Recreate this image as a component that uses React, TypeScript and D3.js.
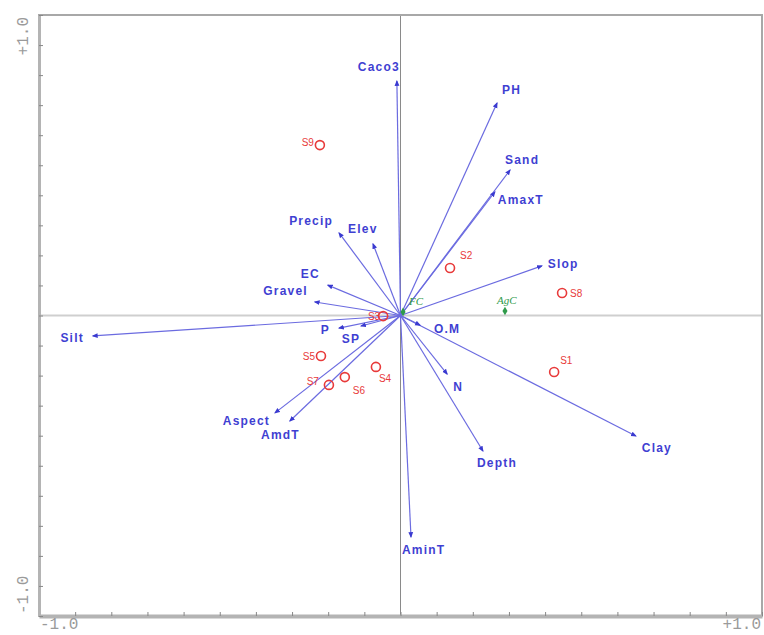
import React, { useRef, useEffect } from 'react';
import * as d3 from 'd3';

// environmental variables (arrows)
const varNames = ['Caco3', 'PH', 'Sand', 'AmaxT', 'Slop', 'Clay', 'Depth', 'N', 'O.M', 'AminT',
    'Aspect', 'AmdT', 'Silt', 'P', 'SP', 'Gravel', 'EC', 'Precip', 'Elev'];
const varX = [-0.01, 0.267, 0.303, 0.261, 0.391, 0.651, 0.228, 0.129, 0.054, 0.029,
    -0.347, -0.306, -0.851, -0.170, -0.109, -0.237, -0.201, -0.170, -0.076];
const varY = [0.78, 0.707, 0.484, 0.411, 0.165, -0.401, -0.451, -0.195, -0.032, -0.737,
    -0.324, -0.351, -0.068, -0.042, -0.035, 0.045, 0.101, 0.275, 0.238];

// sites
const siteNames = ['S1', 'S2', 'S3', 'S4', 'S5', 'S6', 'S7', 'S8', 'S9'];
const siteX = [0.425, 0.137, -0.048, -0.068, -0.220, -0.154, -0.198, 0.447, -0.223];
const siteY = [-0.188, 0.158, -0.002, -0.171, -0.135, -0.205, -0.231, 0.075, 0.567];

// species / supplementary points
const suppNames = ['FC', 'AgC'];
const suppX = [0.007, 0.289];
const suppY = [0.012, 0.015];

const axisTicks = d3.range(-10, 11).map(d => d / 10);

// label layout: [anchor, dx, dy] relative to tip
const varLabelPos: Record<string, [string, number, number]> = {
    Caco3: ['end', 3, -10], PH: ['start', 5, -9], Sand: ['start', -5, -6], AmaxT: ['start', 3, 12],
    Slop: ['start', 6, 2], Clay: ['start', 6, 16], Depth: ['start', -6, 16], N: ['start', 6, 17],
    'O.M': ['start', 14, 8], AminT: ['start', -9, 17], Aspect: ['end', -5, 12], AmdT: ['end', 10, 18],
    Silt: ['end', -9, 6], P: ['end', -9, 6], SP: ['end', -1, 17], Gravel: ['end', -7, -7],
    EC: ['end', -8, -7], Precip: ['end', -6, -8], Elev: ['start', -25, -11],
};
const siteLabelPos: Record<string, [string, number, number]> = {
    S1: ['start', 6, -8], S2: ['start', 10, -9], S3: ['end', -3, 4], S4: ['start', 3, 15],
    S5: ['end', -6, 4], S6: ['start', 8, 17], S7: ['end', -10, 0], S8: ['start', 8, 4], S9: ['end', -6, 1],
};

const App = () => {
    const svgRef = useRef<SVGSVGElement | null>(null);
    const width = 764;
    const height = 635;

    useEffect(() => {
        const svg = d3.select(svgRef.current);
        svg.selectAll('*').remove();

        const frame = { left: 39, right: 762, top: 15, bottom: 616 };
        const x = d3.scaleLinear().domain([-1, 1]).range([frame.left, frame.right]);
        const y = d3.scaleLinear().domain([-1, 1]).range([frame.bottom, frame.top]);

        svg.append('rect').attr('width', width).attr('height', height).attr('fill', '#fff');

        // zero lines
        svg.append('line')
            .attr('x1', frame.left).attr('x2', frame.right)
            .attr('y1', y(0)).attr('y2', y(0))
            .attr('stroke', '#cfcfcf').attr('stroke-width', 2);
        svg.append('line')
            .attr('x1', x(0)).attr('x2', x(0))
            .attr('y1', frame.top).attr('y2', frame.bottom)
            .attr('stroke', '#8a8a8a').attr('stroke-width', 1);

        // frame
        svg.append('rect')
            .attr('x', frame.left).attr('y', frame.top)
            .attr('width', frame.right - frame.left).attr('height', frame.bottom - frame.top)
            .attr('fill', 'none').attr('stroke', '#a8a8a8').attr('stroke-width', 2);

        // axes with minor ticks
        const xAxis = svg.append('g')
            .attr('transform', `translate(0,${frame.bottom})`)
            .call(d3.axisBottom(x).tickValues(axisTicks).tickSize(-4).tickSizeOuter(0).tickFormat(() => ''));
        xAxis.select('.domain').attr('stroke', '#b4b4b4').attr('stroke-width', 4);
        xAxis.selectAll('.tick line').attr('stroke', '#888');

        const yAxis = svg.append('g')
            .attr('transform', `translate(${frame.left},0)`)
            .call(d3.axisLeft(y).tickValues(axisTicks).tickSize(-4).tickSizeOuter(0).tickFormat(() => ''));
        yAxis.select('.domain').attr('stroke', '#b4b4b4').attr('stroke-width', 3);
        yAxis.selectAll('.tick line').attr('stroke', '#888');

        // tick labels
        const tickFont = (s: d3.Selection<SVGTextElement, unknown, null, undefined>) =>
            s.attr('font-family', '"Liberation Mono", "DejaVu Sans Mono", monospace')
                .attr('font-size', 16).attr('fill', '#9a9a9a');
        svg.append('text').attr('x', frame.left + 1).attr('y', 629).attr('text-anchor', 'start').text('-1.0').call(tickFont);
        svg.append('text').attr('x', frame.right - 1).attr('y', 629).attr('text-anchor', 'end').text('+1.0').call(tickFont);
        svg.append('text').attr('transform', `translate(28,${frame.top + 2}) rotate(-90)`)
            .attr('text-anchor', 'end').text('+1.0').call(tickFont);
        svg.append('text').attr('transform', `translate(28,${frame.bottom - 2}) rotate(-90)`)
            .attr('text-anchor', 'start').text('-1.0').call(tickFont);

        // arrowhead marker
        svg.append('defs').append('marker')
            .attr('id', 'head').attr('viewBox', '0 0 10 10')
            .attr('refX', 8).attr('refY', 5)
            .attr('markerWidth', 6).attr('markerHeight', 6)
            .attr('markerUnits', 'userSpaceOnUse')
            .attr('orient', 'auto')
            .append('path').attr('d', 'M0,1 L10,5 L0,9 Z').attr('fill', '#3a3ad0');

        const vars = varNames.map((n, i) => ({ name: n, x: varX[i], y: varY[i] }));

        svg.append('g')
            .selectAll('line')
            .data(vars)
            .join('line')
            .attr('x1', x(0)).attr('y1', y(0))
            .attr('x2', d => x(d.x)).attr('y2', d => y(d.y))
            .attr('stroke', '#6b6be0').attr('stroke-width', 1.2)
            .attr('marker-end', 'url(#head)');

        svg.append('g')
            .selectAll('text')
            .data(vars)
            .join('text')
            .attr('x', d => x(d.x) + varLabelPos[d.name][1])
            .attr('y', d => y(d.y) + varLabelPos[d.name][2])
            .attr('text-anchor', d => varLabelPos[d.name][0])
            .attr('font-family', '"Liberation Sans", Arial, sans-serif')
            .attr('font-weight', 'bold')
            .attr('font-size', 12)
            .attr('letter-spacing', 1.2)
            .attr('fill', '#3f3fd2')
            .text(d => d.name);

        // sites
        const sites = siteNames.map((n, i) => ({ name: n, x: siteX[i], y: siteY[i] }));
        svg.append('g')
            .selectAll('circle')
            .data(sites)
            .join('circle')
            .attr('cx', d => x(d.x)).attr('cy', d => y(d.y))
            .attr('r', 4.5)
            .attr('fill', 'none').attr('stroke', '#e83a3a').attr('stroke-width', 1.6);
        svg.append('g')
            .selectAll('text')
            .data(sites)
            .join('text')
            .attr('x', d => x(d.x) + siteLabelPos[d.name][1])
            .attr('y', d => y(d.y) + siteLabelPos[d.name][2])
            .attr('text-anchor', d => siteLabelPos[d.name][0])
            .attr('font-family', '"Liberation Sans", Arial, sans-serif')
            .attr('font-size', 10)
            .attr('fill', '#e83a3a')
            .text(d => d.name);

        // supplementary points
        const supp = suppNames.map((n, i) => ({ name: n, x: suppX[i], y: suppY[i] }));
        svg.append('g')
            .selectAll('path')
            .data(supp)
            .join('path')
            .attr('transform', d => `translate(${x(d.x)},${y(d.y)})`)
            .attr('d', d3.symbol(d3.symbolDiamond, 22)())
            .attr('fill', '#2f9a4a');
        svg.append('g')
            .selectAll('text')
            .data(supp)
            .join('text')
            .attr('x', d => x(d.x) + (d.name === 'FC' ? 6 : -8))
            .attr('y', d => y(d.y) - 7)
            .attr('font-family', '"Liberation Serif", serif')
            .attr('font-style', 'italic')
            .attr('font-size', 11)
            .attr('fill', '#2f9a4a')
            .text(d => d.name);
    }, []);

    return (
        <svg ref={svgRef} width={width} height={height}
            style={{ position: 'absolute', left: 0, top: 0, display: 'block' }} />
    );
};

export default App;
